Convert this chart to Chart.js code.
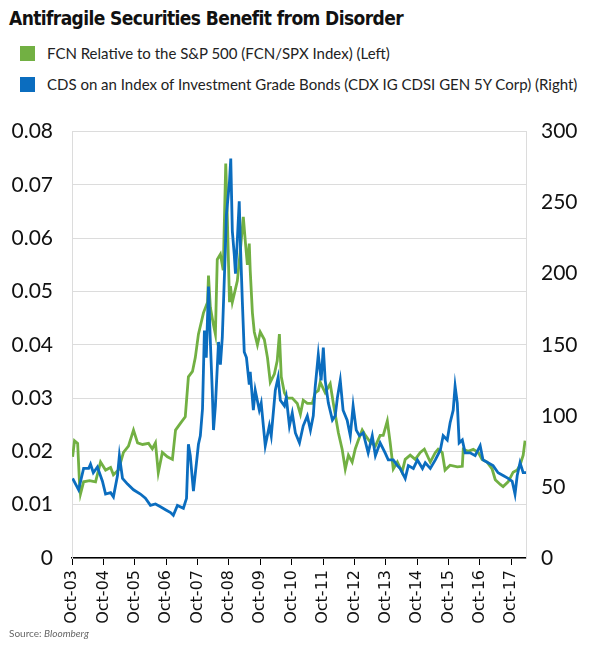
<!DOCTYPE html>
<html>
<head>
<meta charset="utf-8">
<script src="https://cdn.jsdelivr.net/npm/chart.js@4.4.1/dist/chart.umd.min.js"></script>
<style>
  body { margin: 0; width: 600px; height: 650px; background: #fff; position: relative; overflow: hidden; font-family: Lato, sans-serif; }
  #title { position: absolute; left: 9px; top: 7px; font-family: "Liberation Sans Narrow", "DejaVu Sans Condensed", sans-serif; font-weight: bold; font-size: 19px; letter-spacing: -0.6px; color: #111; white-space: nowrap; }
  .legend-item { position: absolute; left: 20px; display: flex; align-items: center; font-size: 15px; color: #222; white-space: nowrap; }
  .swatch { width: 15px; height: 15px; margin-right: 12px; }
  #chart-box { position: absolute; left: 0; top: 100px; width: 600px; height: 530px; }
  #source { position: absolute; left: 9px; top: 627px; font-size: 10px; color: #666; }
</style>
</head>
<body>
<div id="title">Antifragile Securities Benefit from Disorder</div>
<div class="legend-item" style="top:44px"><span class="swatch" style="background:#72b043"></span>FCN Relative to the S&amp;P 500 (FCN/SPX Index) (Left)</div>
<div class="legend-item" style="top:75px"><span class="swatch" style="background:#0b6dbf"></span>CDS on an Index of Investment Grade Bonds (CDX IG CDSI GEN 5Y Corp) (Right)</div>
<div id="chart-box"><canvas id="chart"></canvas></div>
<div id="source">Source: <i>Bloomberg</i></div>
<script>
// Tick positions (decimal years, October of each year) and labels
const xTickValues = [2003.75, 2004.75, 2005.75, 2006.75, 2007.75, 2008.75, 2009.75, 2010.75,
  2011.75, 2012.75, 2013.75, 2014.75, 2015.75, 2016.75, 2017.75];
const xTickLabels = ["Oct-03", "Oct-04", "Oct-05", "Oct-06", "Oct-07", "Oct-08", "Oct-09", "Oct-10",
  "Oct-11", "Oct-12", "Oct-13", "Oct-14", "Oct-15", "Oct-16", "Oct-17"];

// FCN relative to S&P 500 (left axis)
const fcnDates = [
  2003.77, 2003.83, 2003.93, 2003.99, 2004.02, 2004.12, 2004.31, 2004.50, 2004.66, 2004.82,
  2004.98, 2005.07, 2005.23, 2005.39, 2005.55, 2005.71, 2005.84, 2006.00, 2006.19, 2006.31,
  2006.41, 2006.50, 2006.63, 2006.79, 2006.95, 2007.05, 2007.21, 2007.36, 2007.46, 2007.59,
  2007.68, 2007.78, 2007.94, 2008.07, 2008.10, 2008.16, 2008.26, 2008.32, 2008.38, 2008.48,
  2008.57, 2008.65, 2008.70, 2008.77, 2008.80, 2008.86, 2008.96, 2009.02, 2009.12, 2009.21,
  2009.28, 2009.34, 2009.40, 2009.43, 2009.50, 2009.56, 2009.66, 2009.75, 2009.88, 2009.98,
  2010.07, 2010.20, 2010.29, 2010.36, 2010.42, 2010.52, 2010.61, 2010.77, 2010.93, 2011.03,
  2011.12, 2011.25, 2011.41, 2011.50, 2011.60, 2011.66, 2011.82, 2011.98, 2012.08, 2012.24,
  2012.36, 2012.46, 2012.56, 2012.68, 2012.78, 2012.87, 2013.00, 2013.10, 2013.26, 2013.42,
  2013.57, 2013.67, 2013.80, 2013.89, 2013.99, 2014.12, 2014.27, 2014.37, 2014.53, 2014.69,
  2014.85, 2014.98, 2015.17, 2015.33, 2015.42, 2015.55, 2015.64, 2015.80, 2016.03, 2016.19,
  2016.22, 2016.38, 2016.54, 2016.70, 2016.82, 2016.98, 2017.14, 2017.24, 2017.40, 2017.49,
  2017.65, 2017.81, 2017.94, 2018.03, 2018.13, 2018.19
];
const fcnValues = [
  0.019, 0.022, 0.0215, 0.014, 0.012, 0.0143, 0.0145, 0.0143, 0.018, 0.0165,
  0.017, 0.0156, 0.0165, 0.0198, 0.021, 0.024, 0.0216, 0.0213, 0.0215, 0.0205,
  0.0216, 0.016, 0.0198, 0.019, 0.0185, 0.024, 0.0253, 0.0265, 0.034, 0.035,
  0.0376, 0.042, 0.046, 0.048, 0.053, 0.047, 0.0437, 0.042, 0.056, 0.057,
  0.054, 0.074, 0.064, 0.048, 0.051, 0.048, 0.0505, 0.052, 0.058, 0.064,
  0.059, 0.055, 0.059, 0.054, 0.046, 0.0424, 0.040, 0.0424, 0.041, 0.0376,
  0.033, 0.0345, 0.037, 0.042, 0.034, 0.031, 0.030, 0.030, 0.029, 0.027,
  0.0296, 0.029, 0.029, 0.031, 0.0314, 0.033, 0.031, 0.0327, 0.029, 0.0235,
  0.0204, 0.0167, 0.0193, 0.018, 0.0205, 0.022, 0.024, 0.023, 0.0217, 0.021,
  0.023, 0.023, 0.0257, 0.0217, 0.0167, 0.018, 0.0161, 0.0185, 0.0193, 0.0185,
  0.0198, 0.0204, 0.018, 0.0198, 0.0204, 0.0198, 0.0165, 0.0174, 0.0171, 0.0172,
  0.0204, 0.020, 0.0204, 0.0198, 0.0185, 0.018, 0.0167, 0.0147, 0.0138, 0.0134,
  0.0143, 0.0161, 0.0165, 0.0174, 0.0193, 0.022
];

// CDX IG 5Y spread (right axis)
const cdsDates = [
  2003.77, 2003.96, 2004.12, 2004.28, 2004.34, 2004.43, 2004.56, 2004.72, 2004.82, 2004.98,
  2005.07, 2005.20, 2005.26, 2005.36, 2005.52, 2005.71, 2005.93, 2006.09, 2006.25, 2006.41,
  2006.57, 2006.73, 2006.89, 2006.98, 2007.11, 2007.30, 2007.40, 2007.46, 2007.52, 2007.62,
  2007.78, 2007.84, 2007.91, 2007.97, 2008.03, 2008.10, 2008.16, 2008.22, 2008.26, 2008.32,
  2008.42, 2008.48, 2008.54, 2008.64, 2008.67, 2008.77, 2008.81, 2008.86, 2008.92, 2008.96,
  2009.02, 2009.08, 2009.12, 2009.18, 2009.24, 2009.31, 2009.40, 2009.43, 2009.53, 2009.59,
  2009.72, 2009.78, 2009.88, 2009.91, 2010.04, 2010.10, 2010.23, 2010.32, 2010.39, 2010.52,
  2010.58, 2010.68, 2010.77, 2010.87, 2011.00, 2011.12, 2011.25, 2011.35, 2011.44, 2011.50,
  2011.60, 2011.69, 2011.76, 2011.82, 2011.92, 2012.05, 2012.14, 2012.21, 2012.30, 2012.39,
  2012.52, 2012.62, 2012.71, 2012.81, 2012.91, 2013.03, 2013.19, 2013.32, 2013.42, 2013.57,
  2013.73, 2013.83, 2013.99, 2014.12, 2014.21, 2014.37, 2014.47, 2014.63, 2014.76, 2014.92,
  2015.01, 2015.17, 2015.33, 2015.49, 2015.58, 2015.71, 2015.80, 2015.90, 2015.96, 2016.03,
  2016.09, 2016.19, 2016.28, 2016.44, 2016.60, 2016.76, 2016.85, 2017.01, 2017.17, 2017.33,
  2017.49, 2017.65, 2017.78, 2017.87, 2017.94, 2018.03, 2018.13, 2018.22
];
const cdsValues = [
  56, 48, 63, 63, 66, 60, 64, 54, 45, 46,
  43, 58, 72, 56, 52, 48, 45, 42, 37, 38,
  36, 34, 32, 30, 37, 35, 42, 80, 72, 47,
  80, 86, 105, 160, 141, 191, 152, 118, 90, 107,
  152, 136, 155, 219, 241, 265, 281, 230, 214, 200,
  224, 251, 219, 180, 145, 141, 122, 131, 104, 118,
  104, 109, 86, 79, 93, 86, 118, 127, 111, 107,
  113, 93, 102, 88, 81, 93, 100, 90, 100, 120,
  143, 125, 148, 125, 109, 97, 100, 113, 125, 104,
  97, 86, 107, 90, 86, 88, 74, 86, 72, 81,
  74, 69, 69, 65, 63, 56, 65, 63, 69, 63,
  67, 63, 69, 76, 86, 83, 95, 104, 121, 109,
  81, 83, 74, 74, 72, 79, 69, 67, 65, 60,
  58, 56, 54, 45, 58, 67, 60, 60
];

const GREEN = "#72b043";
const BLUE = "#0b6dbf";
const GRID = "#dcdcdc";

const ctx = document.getElementById("chart").getContext("2d");

const chart = new Chart(ctx, {
  type: "line",
  data: {
    datasets: [
      {
        label: "FCN Relative to the S&P 500 (FCN/SPX Index) (Left)",
        data: fcnDates.map((d, i) => ({ x: d, y: fcnValues[i] })),
        borderColor: GREEN,
        borderWidth: 2.8,
        pointRadius: 0,
        tension: 0,
        yAxisID: "y",
        order: 1,
      },
      {
        label: "CDS on an Index of Investment Grade Bonds (CDX IG CDSI GEN 5Y Corp) (Right)",
        data: cdsDates.map((d, i) => ({ x: d, y: cdsValues[i] })),
        borderColor: BLUE,
        borderWidth: 2.8,
        pointRadius: 0,
        tension: 0,
        yAxisID: "y1",
        order: 0,
      },
    ],
  },
  options: {
    responsive: true,
    maintainAspectRatio: false,
    animation: false,
    layout: { padding: { top: 22, left: 0, right: 0, bottom: 0 } },
    plugins: {
      legend: { display: false },
      tooltip: { enabled: false },
    },
    scales: {
      x: {
        type: "linear",
        min: 2003.75,
        max: 2018.22,
        afterBuildTicks: (scale) => {
          scale.ticks = xTickValues.map((v) => ({ value: v }));
        },
        afterFit: (scale) => {
          scale.height = 72;
        },
        ticks: {
          autoSkip: false,
          minRotation: 90,
          maxRotation: 90,
          padding: 5,
          color: "#111",
          font: { family: "'DejaVu Sans'", size: 16 },
          callback: (value, index) => xTickLabels[index],
        },
        grid: {
          drawOnChartArea: false,
          drawTicks: true,
          tickLength: 7,
          color: "#000",
        },
        border: { display: true, color: "#000", width: 1.5 },
      },
      y: {
        position: "left",
        min: 0,
        max: 0.08,
        afterFit: (scale) => {
          scale.width = 72;
        },
        ticks: {
          stepSize: 0.01,
          padding: 19,
          color: "#111",
          font: { family: "Lato", size: 21 },
          callback: (value) => (value === 0 ? "0" : value.toFixed(2)),
        },
        grid: { color: GRID, drawTicks: false },
        border: { color: GRID },
      },
      y1: {
        position: "right",
        min: 0,
        max: 300,
        afterFit: (scale) => {
          scale.width = 74;
        },
        ticks: {
          stepSize: 50,
          padding: 15,
          color: "#111",
          font: { family: "Lato", size: 21 },
        },
        grid: { drawOnChartArea: false, drawTicks: false },
        border: { color: GRID },
      },
    },
  },
});
</script>
</body>
</html>
